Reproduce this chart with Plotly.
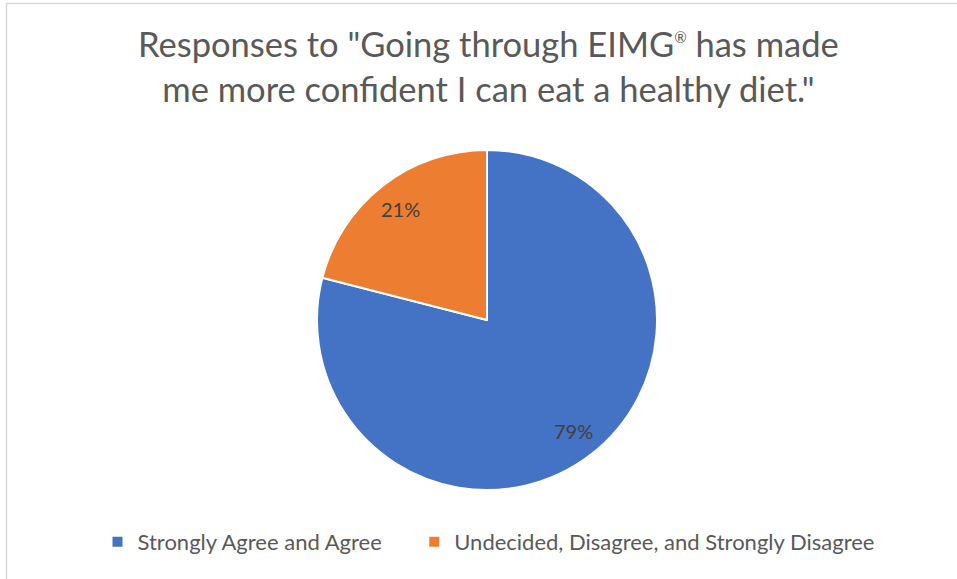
import math
import plotly.graph_objects as go

labels = ["Strongly Agree and Agree", "Undecided, Disagree, and Strongly Disagree"]
values = [79, 21]
colors = ["#4472C4", "#ED7D31"]
title_text = ('Responses to "Going through EIMG<sup><span style="font-size:15px">®</span></sup> has made'
              '<br>me more confident I can eat a healthy diet."')

W, H = 957, 579
cx, cy, r = 487, 320, 170

# pad the first legend entry so the gap between entries matches the reference
legend_labels = [labels[0] + "\u2003\u2002", labels[1]]

fig = go.Figure(go.Pie(
    labels=legend_labels, values=values, sort=False, direction="clockwise", rotation=0,
    marker=dict(colors=colors, line=dict(color="white", width=2)),
    textinfo="none",
    domain=dict(x=[(cx - r) / W, (cx + r) / W], y=[1 - (cy + r) / H, 1 - (cy - r) / H]),
    hoverinfo="label+percent",
))

# data labels placed along each slice's bisector, like the reference
annotations = []
total = sum(values)
cum = 0
for v in values:
    mid = (cum + v / 2) / total * 2 * math.pi
    cum += v
    px = cx + 0.83 * r * math.sin(mid)
    py = cy - 0.83 * r * math.cos(mid)
    annotations.append(dict(x=px / W, y=1 - py / H, xref="paper", yref="paper",
                            text=f"{round(v / total * 100)}%", showarrow=False,
                            font=dict(family="Lato", size=20, color="#404040"),
                            xanchor="center", yanchor="middle"))

annotations.append(dict(x=(488) / W, y=1 - 21 / H, xref="paper", yref="paper", text=title_text,
                        showarrow=False, xanchor="center", yanchor="top",
                        font=dict(family="Lato", size=34.5, color="#595959")))

fig.update_layout(
    width=W, height=H, margin=dict(l=0, r=0, t=0, b=0),
    paper_bgcolor="white", plot_bgcolor="white",
    font=dict(family="Lato", color="#595959"),
    showlegend=True,
    legend=dict(orientation="h", x=0.5 + 10 / W, xanchor="center", y=1 - 542 / H, yanchor="middle",
                font=dict(family="Lato", size=22, color="#595959"), itemsizing="constant",
                itemwidth=30),
    annotations=annotations,
    shapes=[dict(type="rect", xref="paper", yref="paper", x0=6.5 / W, x1=1.02, y0=-0.02, y1=1 - 3.5 / H,
                 line=dict(color="#D9D9D9", width=1.5), fillcolor="rgba(0,0,0,0)")],
)

fig.write_html("out.html")
